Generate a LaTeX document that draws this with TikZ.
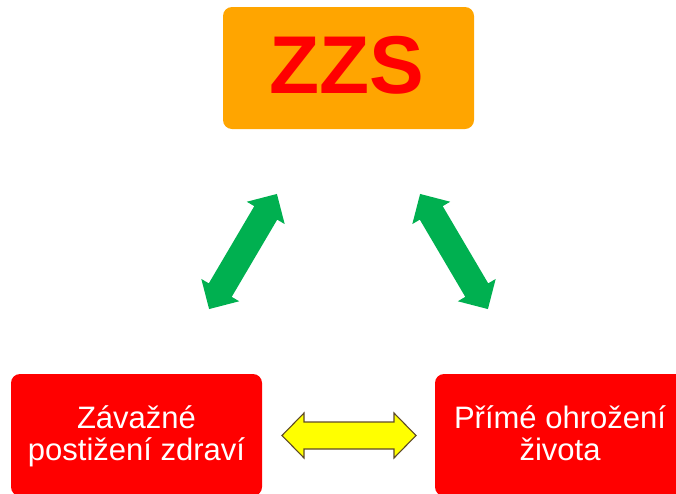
\documentclass[tikz,border=0pt]{standalone}
\usepackage{fontspec}
\newfontfamily\arialfont{Liberation Sans}
\definecolor{zzsorange}{HTML}{FFA500}
\definecolor{boxred}{HTML}{FF0000}
\definecolor{arrgreen}{HTML}{00B050}
\definecolor{arryellow}{HTML}{FFFF00}
\definecolor{arrbrown}{HTML}{5E4A2A}
\tikzset{
  panel/.style={draw=none, rounded corners=9pt, minimum width=251pt, minimum height=122pt, inner sep=0pt},
  boxtext/.style={text=white, font=\arialfont\fontsize{31}{32}\selectfont, align=center, inner sep=0pt},
  pics/dblarr/.style n args={4}{code={
    \path[pic actions] (-#1,0) -- (-#1+#2,#3) -- (-#1+#2,#4) -- (#1-#2,#4) -- (#1-#2,#3) -- (#1,0)
      -- (#1-#2,-#3) -- (#1-#2,-#4) -- (-#1+#2,-#4) -- (-#1+#2,-#3) -- cycle;
  }},
  greenarr/.style={fill=arrgreen, draw=none},
  yellowarr/.style={fill=arryellow, draw=arrbrown, line width=1.1pt, line join=miter}
}
\begin{document}
\begin{tikzpicture}[x=1pt,y=-1pt]
\useasboundingbox (0,0) rectangle (676,493);
\clip (0,0) rectangle (676,493);
% boxes
\node[panel, fill=zzsorange] (zzs) at (348.5,68) {};
\node[anchor=base, text=boxred, inner sep=0pt, font=\arialfont\bfseries\fontsize{82}{82}\selectfont] (zzstext) at (347,93) {ZZS};
\node[panel, fill=boxred] (health) at (136.5,435) {};
\node[panel, fill=boxred] (life) at (560.5,435) {};
\node[boxtext, anchor=base] (healthtext) at (136.5,460) {Závažné\\postižení zdraví};
\node[boxtext, anchor=base] (lifetext) at (560,460) {Přímé ohrožení\\života};
% arrows
\pic[greenarr, rotate=59.5] (leftarr) at (243,251.5) {dblarr={66.8}{22}{22}{13.3}};
\pic[greenarr, rotate=-59.5] (rightarr) at (454,251.5) {dblarr={66.8}{22}{22}{13.3}};
\pic[yellowarr] (botharr) at (349,435.5) {dblarr={67}{22}{22.5}{13.5}};
\end{tikzpicture}
\end{document}
